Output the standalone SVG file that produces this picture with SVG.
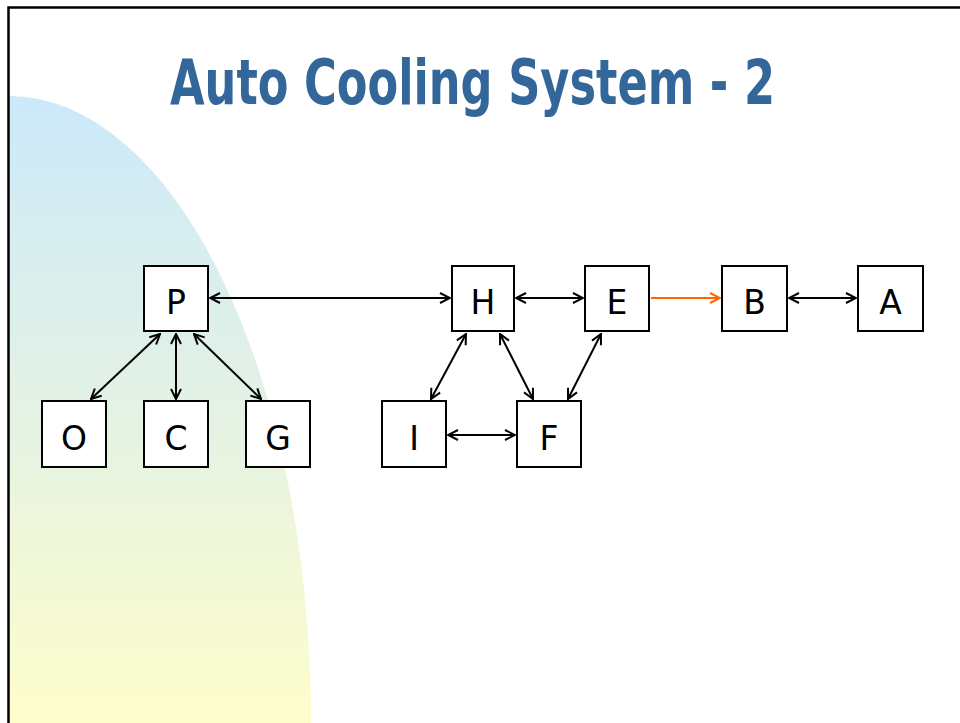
<svg xmlns="http://www.w3.org/2000/svg" width="960" height="723" viewBox="0 0 960 723">
<style>
.box{fill:#ffffff;stroke:#000000;stroke-width:2}
.lbl{font-family:"DejaVu Sans","Verdana",sans-serif;font-size:33px;fill:#000000;text-anchor:middle}
.edge{stroke:#000000;stroke-width:2;fill:none}
.hot{stroke:#ff6600;stroke-width:2;fill:none}
.title{font-family:"Liberation Sans Narrow","DejaVu Sans Condensed","Liberation Sans",sans-serif;font-weight:bold;font-size:62px;fill:#336699}
</style>
<defs>
<linearGradient id="bg" x1="0" y1="96" x2="0" y2="723" gradientUnits="userSpaceOnUse">
<stop offset="0" stop-color="#cce9fa"/>
<stop offset="0.5" stop-color="#e4f2e4"/>
<stop offset="1" stop-color="#fefecb"/>
</linearGradient>
<marker id="ah" viewBox="0 0 12 12" refX="11" refY="6" markerWidth="12" markerHeight="12" markerUnits="userSpaceOnUse" orient="auto-start-reverse">
<path d="M1,1 L11,6 L1,11" fill="none" stroke="#000000" stroke-width="2"/>
</marker>
<marker id="ahOrange" viewBox="0 0 12 12" refX="11" refY="6" markerWidth="12" markerHeight="12" markerUnits="userSpaceOnUse" orient="auto">
<path d="M1,1 L11,6 L1,11" fill="none" stroke="#ff6600" stroke-width="2"/>
</marker>
</defs>
<rect x="0" y="0" width="960" height="723" fill="#ffffff"/>
<path d="M9,723 L9,96 A302,627 0 0 1 311,723 Z" fill="url(#bg)"/>
<path d="M960,7.5 L8.5,7.5 L8.5,723" fill="none" stroke="#000000" stroke-width="2.5"/>
<text class="title" x="170" y="104" textLength="605" lengthAdjust="spacingAndGlyphs">Auto Cooling System - 2</text>
<g id="connectors">
<line class="edge" x1="210" y1="298" x2="450" y2="298" marker-start="url(#ah)" marker-end="url(#ah)"/>
<line class="edge" x1="516" y1="298" x2="583" y2="298" marker-start="url(#ah)" marker-end="url(#ah)"/>
<line class="hot" x1="651" y1="298" x2="720" y2="298" marker-end="url(#ahOrange)"/>
<line class="edge" x1="789" y1="298" x2="856" y2="298" marker-start="url(#ah)" marker-end="url(#ah)"/>
<line class="edge" x1="160" y1="334" x2="91" y2="399" marker-start="url(#ah)" marker-end="url(#ah)"/>
<line class="edge" x1="176" y1="334" x2="176" y2="399" marker-start="url(#ah)" marker-end="url(#ah)"/>
<line class="edge" x1="194" y1="334" x2="261" y2="399" marker-start="url(#ah)" marker-end="url(#ah)"/>
<line class="edge" x1="466" y1="334" x2="431" y2="399" marker-start="url(#ah)" marker-end="url(#ah)"/>
<line class="edge" x1="500" y1="334" x2="533" y2="399" marker-start="url(#ah)" marker-end="url(#ah)"/>
<line class="edge" x1="601" y1="334" x2="568" y2="399" marker-start="url(#ah)" marker-end="url(#ah)"/>
<line class="edge" x1="448" y1="435" x2="515" y2="435" marker-start="url(#ah)" marker-end="url(#ah)"/>
</g>
<g id="node-P"><rect class="box" x="144" y="266" width="64" height="65"/><text class="lbl" x="176" y="314">P</text></g>
<g id="node-H"><rect class="box" x="452" y="266" width="62" height="65"/><text class="lbl" x="483" y="314">H</text></g>
<g id="node-E"><rect class="box" x="585" y="266" width="64" height="65"/><text class="lbl" x="617" y="314">E</text></g>
<g id="node-B"><rect class="box" x="722" y="266" width="65" height="65"/><text class="lbl" x="754.5" y="314">B</text></g>
<g id="node-A"><rect class="box" x="858" y="266" width="65" height="65"/><text class="lbl" x="890.5" y="314">A</text></g>
<g id="node-O"><rect class="box" x="42" y="401" width="64" height="66"/><text class="lbl" x="74" y="450">O</text></g>
<g id="node-C"><rect class="box" x="144" y="401" width="64" height="66"/><text class="lbl" x="176" y="450">C</text></g>
<g id="node-G"><rect class="box" x="246" y="401" width="64" height="66"/><text class="lbl" x="278" y="450">G</text></g>
<g id="node-I"><rect class="box" x="382" y="401" width="64" height="66"/><text class="lbl" x="414" y="450">I</text></g>
<g id="node-F"><rect class="box" x="517" y="401" width="64" height="66"/><text class="lbl" x="549" y="450">F</text></g>
</svg>
